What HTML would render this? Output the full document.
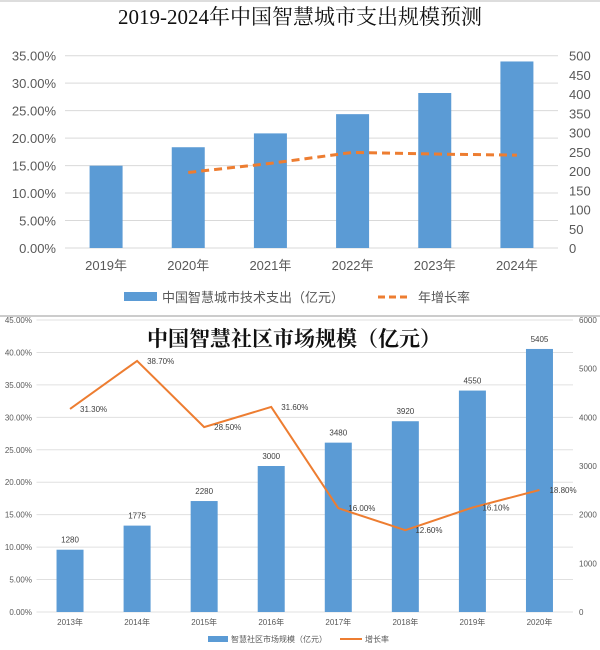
<!DOCTYPE html>
<html><head><meta charset="utf-8">
<style>
html,body{margin:0;padding:0;background:#fff;}
svg{display:block;font-family:"Liberation Sans","Noto Sans CJK SC",sans-serif;}
</style></head>
<body>
<svg id="c" width="600" height="650" viewBox="0 0 600 650">
  <line x1="0" y1="1" x2="600" y2="1" stroke="#ddd" stroke-width="2"/>
  <text x="300" y="24" text-anchor="middle" font-size="21" font-family="Liberation Serif,'Noto Serif CJK SC',serif" fill="#111">2019-2024年中国智慧城市支出规模预测</text>
  <g id="c1"></g>
  <line x1="0" y1="316" x2="600" y2="316" stroke="#ccc" stroke-width="2"/>
  <g id="c2"></g>
  <text x="294" y="346" text-anchor="middle" font-size="21" font-weight="bold" font-family="'Noto Serif CJK SC',serif" fill="#111">中国智慧社区市场规模（亿元）</text>
</svg>
<script>
// Chart 1 data
const c1Categories = ["2019年","2020年","2021年","2022年","2023年","2024年"];
const c1Spend = [214, 262, 298, 348, 403, 485];
const c1Growth = [null, 13.75, 15.4, 17.4, 17.1, 16.9];
const c1LeftTicks = [0,5,10,15,20,25,30,35];
const c1RightTicks = [0,50,100,150,200,250,300,350,400,450,500];

// Chart 2 data
const c2Categories = ["2013年","2014年","2015年","2016年","2017年","2018年","2019年","2020年"];
const c2Market = [1280, 1775, 2280, 3000, 3480, 3920, 4550, 5405];
const c2Growth = [31.3, 38.7, 28.5, 31.6, 16.0, 12.6, 16.1, 18.8];
const c2LeftTicks = [0,5,10,15,20,25,30,35,40,45];
const c2RightTicks = [0,1000,2000,3000,4000,5000,6000];

const NS = "http://www.w3.org/2000/svg";
function mk(parent, tag, attrs, text){
  const e = document.createElementNS(NS, tag);
  for (const k in attrs) e.setAttribute(k, attrs[k]);
  if (text !== undefined) e.textContent = text;
  parent.appendChild(e);
  return e;
}

// ---------- Chart 1 ----------
(function(){
  const g = document.getElementById('c1');
  const L = 65, R = 558, T = 55.7, B = 248;
  const bw = (R - L) / c1Categories.length;
  const yL = v => B - v / 35 * (B - T);
  const yR = v => B - v / 500 * (B - T);
  const xC = i => L + bw * (i + 0.5);
  c1LeftTicks.forEach(v => {
    const gl = mk(g, 'line', {x1:L, x2:R, y1:yL(v), y2:yL(v), stroke:'#d9d9d9', 'stroke-width':1});
    
    
    const t = mk(g, 'text', {x:56, y:yL(v)+5, 'text-anchor':'end', 'font-size':13, fill:'#595959'}, v.toFixed(2)+'%');
    
    
  });
  c1RightTicks.forEach(v => {
    const t = mk(g, 'text', {x:569, y:yR(v)+5, 'text-anchor':'start', 'font-size':13, fill:'#595959'}, String(v));
    
    
  });
  c1Spend.forEach((v, i) => {
    const r = mk(g, 'rect', {x:xC(i)-16.5, y:yR(v), width:33, height:B-yR(v), fill:'#5b9bd5'});
    
    
  });
  c1Categories.forEach((c, i) => {
    const t = mk(g, 'text', {x:xC(i), y:270, 'text-anchor':'middle', 'font-size':13, fill:'#595959'}, c);
    
    
  });
  const pts = [];
  c1Growth.forEach((v, i) => { if (v !== null) pts.push(xC(i)+','+yL(v)); });
  const pl = mk(g, 'polyline', {points:pts.join(' '), fill:'none', stroke:'#ed7d31', 'stroke-width':3, 'stroke-dasharray':'8,5'});
  
  
  // legend
  const lr = mk(g, 'rect', {x:124, y:292, width:33, height:9, fill:'#5b9bd5'});
  
  
  const lt = mk(g, 'text', {x:162, y:302, 'font-size':13, fill:'#595959'}, '中国智慧城市技术支出（亿元）');
  
  
  const ll = mk(g, 'line', {x1:378, x2:410, y1:297, y2:297, stroke:'#ed7d31', 'stroke-width':3, 'stroke-dasharray':'7,4'});
  
  
  const lt2 = mk(g, 'text', {x:418, y:302, 'font-size':13, fill:'#595959'}, '年增长率');
  
  
})();

// ---------- Chart 2 ----------
(function(){
  const g = document.getElementById('c2');
  const L = 36.5, R = 573, T = 320, B = 612;
  const bw = (R - L) / c2Categories.length;
  const yL = v => B - v / 45 * (B - T);
  const yR = v => B - v / 6000 * (B - T);
  const xC = i => L + bw * (i + 0.5);
  c2LeftTicks.forEach(v => {
    const gl = mk(g, 'line', {x1:L, x2:R, y1:yL(v), y2:yL(v), stroke:'#e0e0e0', 'stroke-width':1});
    
    
    const t = mk(g, 'text', {x:32, y:yL(v)+3, 'text-anchor':'end', 'font-size':8, fill:'#595959'}, v.toFixed(2)+'%');
    
    
  });
  c2RightTicks.forEach(v => {
    const t = mk(g, 'text', {x:579, y:yR(v)+3, 'text-anchor':'start', 'font-size':8, fill:'#595959'}, String(v));
    
    
  });
  c2Market.forEach((v, i) => {
    const r = mk(g, 'rect', {x:xC(i)-13.5, y:yR(v), width:27, height:B-yR(v), fill:'#5b9bd5'});
    
    
    const t = mk(g, 'text', {x:xC(i), y:yR(v)-7, 'text-anchor':'middle', 'font-size':8, fill:'#404040'}, String(v));
    
    
  });
  c2Categories.forEach((c, i) => {
    const t = mk(g, 'text', {x:xC(i), y:625, 'text-anchor':'middle', 'font-size':8, fill:'#595959'}, c);
    
    
  });
  const pts = c2Growth.map((v, i) => xC(i)+','+yL(v));
  const pl = mk(g, 'polyline', {points:pts.join(' '), fill:'none', stroke:'#ed7d31', 'stroke-width':2});
  
  
  c2Growth.forEach((v, i) => {
    const t = mk(g, 'text', {x:xC(i)+10, y:yL(v)+3, 'font-size':8, fill:'#404040'}, v.toFixed(2)+'%');
    
    
  });
  const lr = mk(g, 'rect', {x:208, y:636, width:20, height:6, fill:'#5b9bd5'});
  
  
  const lt = mk(g, 'text', {x:231, y:642, 'font-size':8, fill:'#595959'}, '智慧社区市场规模（亿元）');
  
  
  const ll = mk(g, 'line', {x1:340, x2:362, y1:639, y2:639, stroke:'#ed7d31', 'stroke-width':2});
  
  
  const lt2 = mk(g, 'text', {x:365, y:642, 'font-size':8, fill:'#595959'}, '增长率');
  
  
})();
</script>
</body></html>
